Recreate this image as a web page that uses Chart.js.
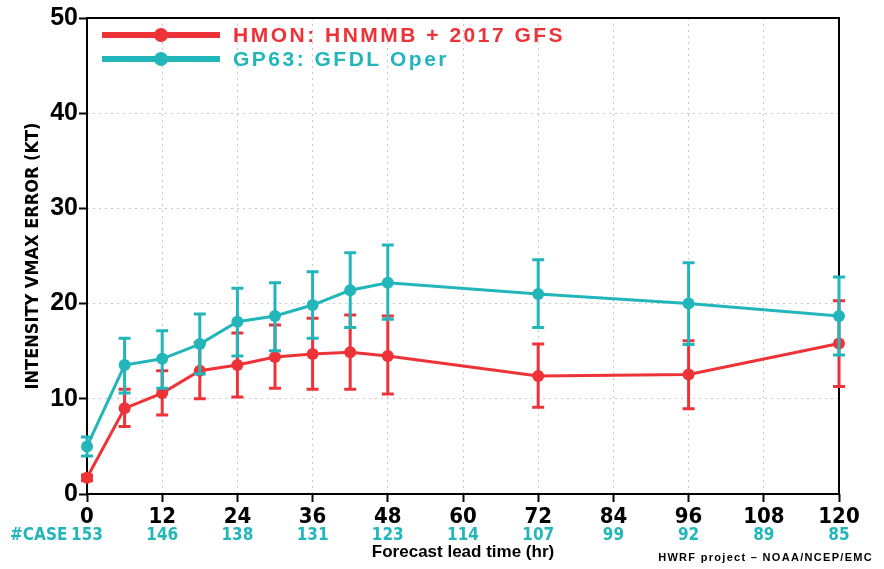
<!DOCTYPE html>
<html><head><meta charset="utf-8">
<script src="https://cdn.jsdelivr.net/npm/chart.js@4/dist/chart.umd.min.js"></script>
<style>html,body{margin:0;padding:0;background:#fff;}canvas{display:block;}</style>
</head><body>
<canvas id="c" width="884" height="569"></canvas>
<script>
// ---- data ----
const leadTimes = [0, 6, 12, 18, 24, 30, 36, 42, 48, 72, 96, 120];
const hmonMean = [1.7, 9.0, 10.6, 12.95, 13.55, 14.4, 14.7, 14.9, 14.5, 12.4, 12.55, 15.8];
const hmonLow  = [1.4, 7.1, 8.3, 10.0, 10.2, 11.1, 11.0, 11.0, 10.5, 9.1, 8.95, 11.3];
const hmonHigh = [2.0, 11.0, 12.95, 15.9, 16.9, 17.75, 18.45, 18.8, 18.7, 15.75, 16.1, 20.3];
const gp63Mean = [5.0, 13.55, 14.2, 15.75, 18.1, 18.7, 19.85, 21.4, 22.2, 21.0, 20.0, 18.7];
const gp63Low  = [4.0, 10.6, 11.1, 12.6, 14.5, 15.05, 16.35, 17.5, 18.35, 17.5, 15.7, 14.6];
const gp63High = [6.0, 16.35, 17.15, 18.9, 21.6, 22.2, 23.35, 25.35, 26.15, 24.6, 24.3, 22.8];
const xTickValues = [0, 12, 24, 36, 48, 60, 72, 84, 96, 108, 120];
const yTickValues = [0, 10, 20, 30, 40, 50];
const caseCounts = [153, 146, 138, 131, 123, 114, 107, 99, 92, 89, 85];
const seriesLabels = ['HMON: HNMMB + 2017 GFS', 'GP63: GFDL Oper'];
const caseLabel = '#CASE';
const xTitle = 'Forecast lead time (hr)';
const yTitle = 'INTENSITY VMAX ERROR (KT)';
const footer = 'HWRF project \u2013 NOAA/NCEP/EMC';

const RED = '#ee3338';
const TEAL = '#22b6ba';

// pick a condensed font if one is installed
function hasFont(name) {
  const c = document.createElement('canvas').getContext('2d');
  const s = 'mmmWWWiii120#CASE';
  c.font = 'bold 40px monospace'; const w1 = c.measureText(s).width;
  c.font = 'bold 40px "' + name + '", monospace'; const w2 = c.measureText(s).width;
  c.font = 'bold 40px serif'; const w3 = c.measureText(s).width;
  c.font = 'bold 40px "' + name + '", serif'; const w4 = c.measureText(s).width;
  return w1 !== w2 || w3 !== w4;
}
let narrow = null;
for (const f of ['Liberation Sans Narrow', 'DejaVu Sans Condensed', 'Arial Narrow', 'Nimbus Sans Narrow']) {
  if (hasFont(f)) { narrow = f; break; }
}
const narrowFamily = narrow ? '"' + narrow + '", "Liberation Sans", sans-serif' : '"Liberation Sans", Arial, sans-serif';
const xTickSize = narrow ? (narrow.indexOf('DejaVu') >= 0 ? 22 : 24) : 21;

const toPts = (ys) => leadTimes.map((x, i) => ({x: x, y: ys[i]}));

const errorBars = {
  id: 'errorBars',
  beforeDatasetDraw(chart, args) {
    const ds = chart.data.datasets[args.index];
    if (!ds.errLow) return;
    const xs = chart.scales.x, ys = chart.scales.y, ctx = chart.ctx;
    ctx.save();
    ctx.strokeStyle = ds.borderColor;
    ctx.lineWidth = 3;
    leadTimes.forEach((t, i) => {
      const px = xs.getPixelForValue(t);
      const y1 = ys.getPixelForValue(ds.errLow[i]);
      const y2 = ys.getPixelForValue(ds.errHigh[i]);
      ctx.beginPath();
      ctx.moveTo(px, y1); ctx.lineTo(px, y2);
      ctx.moveTo(px - 6, y1); ctx.lineTo(px + 6, y1);
      ctx.moveTo(px - 6, y2); ctx.lineTo(px + 6, y2);
      ctx.stroke();
    });
    ctx.restore();
  }
};

const decor = {
  id: 'decor',
  beforeDatasetsDraw(chart) {
    const {ctx, chartArea: a} = chart;
    ctx.save();
    ctx.strokeStyle = '#000';
    ctx.lineWidth = 2;
    ctx.strokeRect(a.left, a.top, a.right - a.left, a.bottom - a.top);
    ctx.restore();
  },
  afterDraw(chart) {
    const {ctx, chartArea: a} = chart;
    const xs = chart.scales.x;
    ctx.save();
    // legend
    const colors = [RED, TEAL];
    const rowsY = [a.top + 17, a.top + 41];
    seriesLabels.forEach((lab, i) => {
      const y = rowsY[i];
      ctx.strokeStyle = colors[i];
      ctx.lineWidth = 6;
      ctx.beginPath(); ctx.moveTo(102, y); ctx.lineTo(220, y); ctx.stroke();
      ctx.fillStyle = colors[i];
      ctx.beginPath(); ctx.arc(161, y, 7, 0, Math.PI * 2); ctx.fill();
      ctx.font = 'bold 21px "Liberation Sans", Arial, sans-serif';
      ctx.letterSpacing = '2.5px';
      ctx.textAlign = 'left'; ctx.textBaseline = 'middle';
      ctx.fillText(lab, 233, y + 1);
    });
    ctx.letterSpacing = '0px';
    // #CASE row
    ctx.fillStyle = TEAL;
    ctx.font = 'bold 17px ' + narrowFamily;
    ctx.textBaseline = 'middle';
    ctx.textAlign = 'left';
    ctx.fillText(caseLabel, 10, 536);
    ctx.textAlign = 'center';
    xTickValues.forEach((t, i) => {
      ctx.fillText(String(caseCounts[i]), xs.getPixelForValue(t), 536);
    });
    // footer
    ctx.fillStyle = '#000';
    ctx.font = 'bold 11px "Liberation Sans", Arial, sans-serif';
    ctx.letterSpacing = '1.3px';
    ctx.textAlign = 'right';
    ctx.fillText(footer, 873, 558);
    ctx.restore();
  }
};

new Chart(document.getElementById('c'), {
  type: 'line',
  data: {
    datasets: [
      {label: seriesLabels[0], data: toPts(hmonMean), errLow: hmonLow, errHigh: hmonHigh,
       borderColor: RED, backgroundColor: RED, borderWidth: 3, pointRadius: 6, pointBorderWidth: 0,
       pointBackgroundColor: RED, tension: 0, order: 2, clip: false},
      {label: seriesLabels[1], data: toPts(gp63Mean), errLow: gp63Low, errHigh: gp63High,
       borderColor: TEAL, backgroundColor: TEAL, borderWidth: 3, pointRadius: 6, pointBorderWidth: 0,
       pointBackgroundColor: TEAL, tension: 0, order: 1, clip: false}
    ]
  },
  options: {
    responsive: false,
    animation: false,
    devicePixelRatio: 1,
    layout: {padding: {left: 0, right: 45, top: 18, bottom: 0}},
    plugins: {legend: {display: false}, tooltip: {enabled: false}},
    scales: {
      x: {
        type: 'linear', min: 0, max: 120,
        afterBuildTicks: (s) => { s.ticks = xTickValues.map(v => ({value: v})); },
        afterFit: (s) => { s.height = 75; },
        grid: {color: '#c9c9c9', lineWidth: 1, drawTicks: true, tickLength: 8, tickColor: '#000', tickWidth: 2, tickBorderDash: []},
        border: {display: false, dash: [2, 4]},
        ticks: {color: '#000', padding: 2, maxRotation: 0, autoSkip: false,
                font: {family: narrowFamily, weight: 'bold', size: xTickSize}},
        title: {display: true, text: xTitle, color: '#000', padding: {top: 0, bottom: 6},
                font: {family: '"Liberation Sans", Arial, sans-serif', weight: 'bold', size: 17}}
      },
      y: {
        type: 'linear', min: 0, max: 50,
        afterBuildTicks: (s) => { s.ticks = yTickValues.map(v => ({value: v})); },
        afterFit: (s) => { s.width = 87; },
        grid: {color: '#c9c9c9', lineWidth: 1, drawTicks: true, tickLength: 8, tickColor: '#000', tickWidth: 2, tickBorderDash: []},
        border: {display: false, dash: [2, 4]},
        ticks: {color: '#000', padding: 1,
                font: {family: '"Liberation Sans", Arial, sans-serif', weight: 'bold', size: 25}},
        title: {display: true, text: yTitle, color: '#000', padding: {top: 23, bottom: 0},
                font: {family: narrowFamily, weight: 'bold', size: 18}}
      }
    }
  },
  plugins: [errorBars, decor]
});
</script>
</body></html>
